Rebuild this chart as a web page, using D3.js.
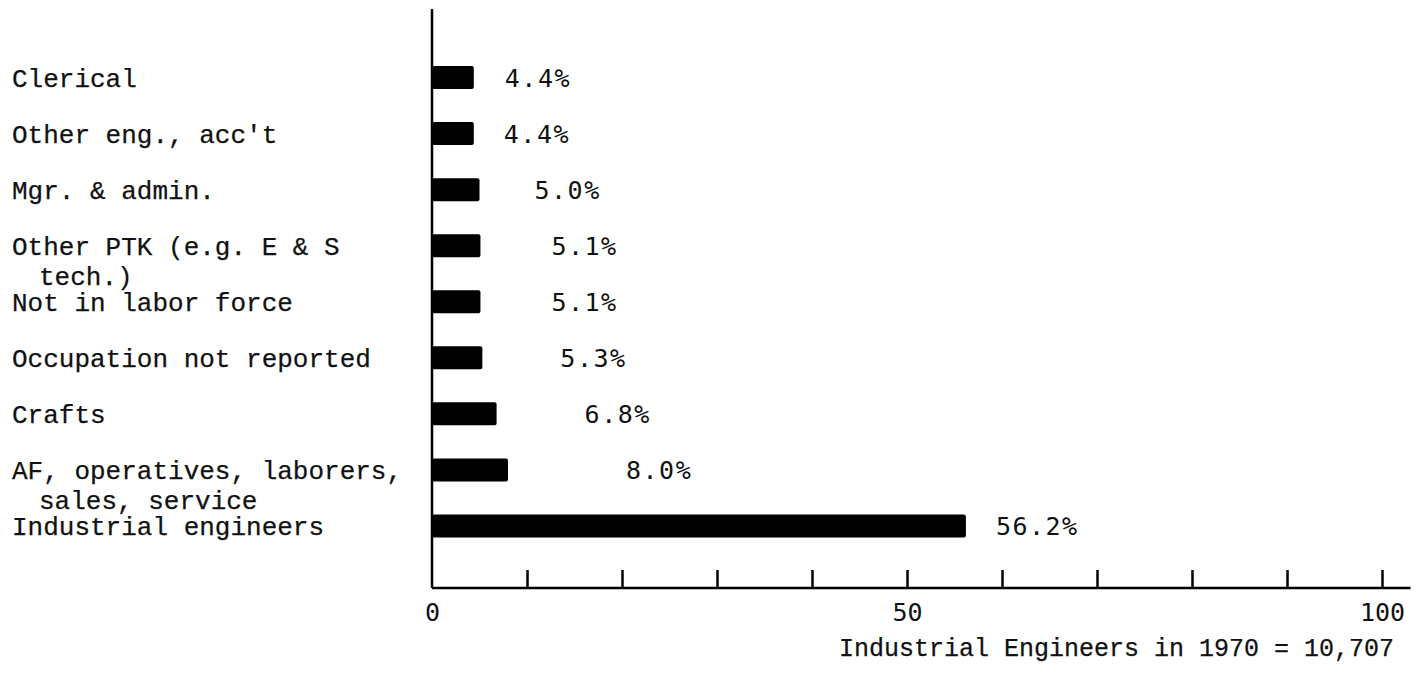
<!DOCTYPE html>
<html>
<head>
<meta charset="utf-8">
<script src="https://cdn.jsdelivr.net/npm/d3@7"></script>
<style>
    body { margin: 0; background: #fff; }
    svg { display: block; }
</style>
</head>
<body>
<svg id="plot"></svg>
<script>
// data, top to bottom as in the figure
categories = [
    "Clerical",
    "Other eng., acc't",
    "Mgr. & admin.",
    "Other PTK (e.g. E & S tech.)",
    "Not in labor force",
    "Occupation not reported",
    "Crafts",
    "AF, operatives, laborers, sales, service",
    "Industrial engineers"
];
values = [4.4, 4.4, 5.0, 5.1, 5.1, 5.3, 6.8, 8.0, 56.2];
tickValues = [10, 20, 30, 40, 50, 60, 70, 80, 90, 100];
tickLabels = [0, 50, 100];
caption = "Industrial Engineers in 1970 = 10,707";

// layout
svgWidth = 1419;
svgHeight = 675;
plotTop = 9;
axisY = 588;
axisEnd = 103;          // x axis line runs a little past 100
labelX = 12;
wrapChars = 25;
lineGap = 30;
wrapIndent = 27;
// the typed percentages sit at uneven distances from the bar ends
labelGap = [31, 30, 55, 71, 71, 78, 88, 118, 30];

serif = "'Liberation Mono', 'Courier New', monospace";
sans = "'DejaVu Sans Mono', monospace";

function wrap(s) {
    const words = s.split(" ");
    const lines = [];
    let cur = "";
    words.forEach(w => {
        const next = cur ? cur + " " + w : w;
        if (next.length > wrapChars && cur) {
            lines.push(cur);
            cur = w;
        } else {
            cur = next;
        }
    });
    lines.push(cur);
    return lines;
}

function createSVG() {
    const svg = d3.select("#plot")
        .attr("width", svgWidth)
        .attr("height", svgHeight)
        .attr("viewBox", [0, 0, svgWidth, svgHeight]);

    // bars
    svg.append("g")
        .selectAll("rect")
        .data(values)
        .join("rect")
        .attr("x", x(0))
        .attr("y", (d, i) => y(i))
        .attr("width", d => x(d) - x(0))
        .attr("height", y.bandwidth())
        .attr("rx", 2)
        .attr("fill", "#000");

    // value labels
    svg.append("g")
        .selectAll("text")
        .data(values)
        .join("text")
        .attr("x", (d, i) => x(d) + labelGap[i])
        .attr("y", (d, i) => y(i) + y.bandwidth() / 2)
        .attr("dy", "0.36em")
        .attr("font-family", sans)
        .attr("font-size", 25)
        .attr("letter-spacing", 1.5)
        .attr("fill", "#111")
        .text(d => d3.format(".1f")(d) + "%");

    // category labels
    const cat = svg.append("g")
        .selectAll("text")
        .data(categories)
        .join("text")
        .attr("x", labelX)
        .attr("y", (d, i) => y(i) + y.bandwidth() / 2)
        .attr("dy", "0.36em")
        .attr("font-family", serif)
        .attr("font-size", 26)
        .attr("fill", "#111")
        .attr("stroke", "#111")
        .attr("stroke-width", 0.25);

    cat.selectAll("tspan")
        .data(d => wrap(d))
        .join("tspan")
        .attr("x", (d, i) => i ? labelX + wrapIndent : labelX)
        .attr("dy", (d, i) => i ? lineGap : null)
        .text(d => d);

    // x axis: ticks point up into the plot
    svg.append("g")
        .attr("transform", `translate(0,${axisY})`)
        .call(d3.axisBottom(x)
            .tickValues(tickValues)
            .tickSize(-18)
            .tickFormat(""))
        .call(g => g.select(".domain").remove())
        .call(g => g.selectAll(".tick line")
            .attr("stroke", "#000")
            .attr("stroke-width", 2.5));

    svg.append("g")
        .attr("transform", `translate(0,${axisY})`)
        .call(d3.axisBottom(x)
            .tickValues(tickLabels)
            .tickSize(0)
            .tickPadding(15))
        .call(g => g.select(".domain").remove())
        .call(g => g.selectAll(".tick text")
            .attr("font-family", sans)
            .attr("font-size", 25)
            .attr("fill", "#111"));

    svg.append("line")
        .attr("x1", x(0))
        .attr("x2", x(axisEnd))
        .attr("y1", axisY)
        .attr("y2", axisY)
        .attr("stroke", "#000")
        .attr("stroke-width", 2.5);

    // y axis
    svg.append("line")
        .attr("x1", x(0))
        .attr("x2", x(0))
        .attr("y1", plotTop)
        .attr("y2", axisY)
        .attr("stroke", "#000")
        .attr("stroke-width", 2.5);

    svg.append("text")
        .attr("x", x(100) + 12)
        .attr("y", 656)
        .attr("text-anchor", "end")
        .attr("font-family", serif)
        .attr("font-size", 25)
        .attr("fill", "#111")
        .attr("stroke", "#111")
        .attr("stroke-width", 0.25)
        .text(caption);
}

function chartMain() {
    x = d3.scaleLinear()
        .domain([0, 100])
        .range([432, 1382]);

    y = d3.scaleBand()
        .domain(values.map((d, i) => i))
        .range([49.5, 554])
        .paddingInner(0.59)
        .paddingOuter(0.295);

    createSVG();
}

chartMain();
</script>
</body>
</html>
